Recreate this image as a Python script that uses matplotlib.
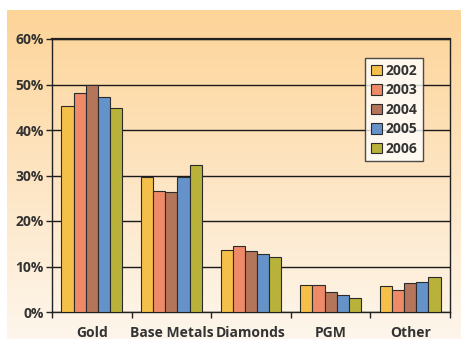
import numpy as np
import matplotlib.pyplot as plt
from matplotlib.colors import LinearSegmentedColormap

# data (percent)
categories = ["Gold", "Base Metals", "Diamonds", "PGM", "Other"]
years = ["2002", "2003", "2004", "2005", "2006"]
v2002 = [45.2, 29.6, 13.6, 6.0, 5.7]
v2003 = [48.1, 26.7, 14.6, 6.0, 4.8]
v2004 = [49.9, 26.4, 13.3, 4.3, 6.3]
v2005 = [47.3, 29.6, 12.8, 3.7, 6.7]
v2006 = [44.8, 32.4, 12.0, 3.1, 7.8]
series = [v2002, v2003, v2004, v2005, v2006]
colors = ["#F4C04A", "#EE8A68", "#B5755A", "#6592C8", "#B8B23A"]
yticks = [0, 10, 20, 30, 40, 50, 60]

plt.rcParams['font.family'] = ['Open Sans', 'DejaVu Sans']
fs = 10

fig = plt.figure(figsize=(4.61, 3.39), dpi=100)

# gradient background panel
bg = fig.add_axes([7 / 461, 0, 1 - 7 / 461, 1 - 10 / 339], zorder=0)
cmap = LinearSegmentedColormap.from_list("bg", ["#FEF6EC", "#FDD498"])
bg.imshow(np.linspace(0, 1, 256).reshape(-1, 1), aspect="auto", cmap=cmap,
          origin="lower", extent=[0, 1, 0, 1])
bg.axis("off")

ax = fig.add_axes([52 / 461, 1 - 312 / 339, 398 / 461, 273 / 339], zorder=1)
ax.patch.set_alpha(0)

x = np.arange(len(categories))
w = 0.153
for i, (vals, c, yr) in enumerate(zip(series, colors, years)):
    ax.bar(x + (i - 2) * w, vals, w, color=c, edgecolor="#2b2b2b",
           linewidth=0.8, label=yr, zorder=3)

ax.set_xlim(-0.5, len(categories) - 0.5)
ax.set_ylim(0, 60)
ax.set_yticks(yticks)
ax.set_yticklabels([f"{t}%" for t in yticks], fontsize=fs,
                   fontweight="bold", color="#333333")
ax.yaxis.grid(True, color="#1a1a1a", linewidth=1.0, zorder=1)
ax.set_axisbelow(True)

ax.set_xticks(np.arange(len(categories) + 1) - 0.5)
ax.set_xticklabels([])
ax.set_xticks(x, minor=True)
ax.set_xticklabels(categories, minor=True, fontsize=fs,
                   fontweight="bold", color="#333333")
ax.tick_params(axis="x", which="minor", length=0, pad=10)
ax.tick_params(axis="x", which="major", length=4, width=1, color="#222222")
ax.tick_params(axis="y", length=4, width=1, color="#222222", pad=2)

for s in ax.spines.values():
    s.set_color("#222222")
    s.set_linewidth(1.0)
ax.spines["top"].set_linewidth(1.6)

leg = ax.legend(loc="upper right", bbox_to_anchor=(0.932, 0.93),
                prop={"weight": "bold", "size": fs},
                frameon=True, fancybox=False, handlelength=0.8,
                handleheight=0.8, handletextpad=0.25, borderpad=0.4,
                labelspacing=0.4, borderaxespad=0)
leg.get_frame().set_edgecolor("#222222")
leg.get_frame().set_linewidth(1.0)
for t in leg.get_texts():
    t.set_color("#333333")

fig.savefig("out.png", dpi=100)
